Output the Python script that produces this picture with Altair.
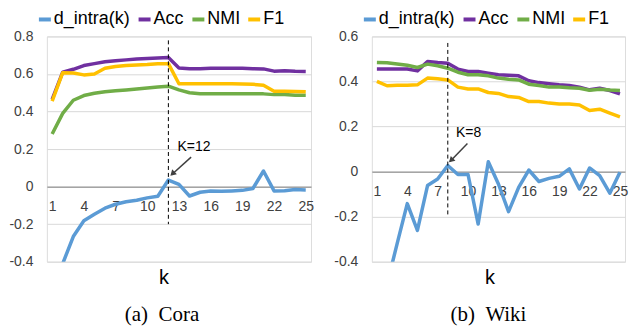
import altair as alt
import pandas as pd

# ---------------- data ----------------
k = list(range(1, 26))
series_names = ["d_intra(k)", "Acc", "NMI", "F1"]
series_colors = ["#5B9BD5", "#7030A0", "#70AD47", "#FFC000"]
x_ticks = [1, 4, 7, 10, 13, 16, 19, 22, 25]

cora_d = [None, -0.41, -0.266, -0.182, -0.147, -0.115, -0.094, -0.081, -0.073, -0.060,
          -0.051, 0.035, 0.012, -0.050, -0.030, -0.023, -0.025, -0.023, -0.020, -0.010,
          0.083, -0.023, -0.022, -0.016, -0.018]
cora_acc = [0.465, 0.610, 0.625, 0.645, 0.655, 0.665, 0.670, 0.675, 0.680, 0.682,
            0.685, 0.688, 0.632, 0.628, 0.628, 0.630, 0.630, 0.630, 0.630, 0.628,
            0.627, 0.615, 0.617, 0.614, 0.613]
cora_nmi = [0.280, 0.390, 0.460, 0.485, 0.497, 0.505, 0.510, 0.515, 0.520, 0.525,
            0.530, 0.535, 0.515, 0.500, 0.495, 0.495, 0.495, 0.495, 0.495, 0.494,
            0.494, 0.490, 0.490, 0.487, 0.487]
cora_f1 = [0.455, 0.607, 0.605, 0.595, 0.600, 0.630, 0.640, 0.645, 0.648, 0.650,
           0.655, 0.655, 0.548, 0.548, 0.548, 0.548, 0.548, 0.548, 0.546, 0.545,
           0.540, 0.508, 0.508, 0.507, 0.505]

wiki_d = [None, -0.50, -0.32, -0.142, -0.261, -0.062, -0.033, 0.027, -0.013, -0.013,
          -0.233, 0.044, -0.055, -0.178, -0.070, 0.007, -0.044, -0.030, -0.021, 0.012,
          -0.077, 0.016, -0.018, -0.096, -0.003]
wiki_acc = [0.455, 0.455, 0.455, 0.455, 0.447, 0.489, 0.484, 0.481, 0.455, 0.444,
            0.444, 0.437, 0.430, 0.428, 0.425, 0.403, 0.395, 0.390, 0.385, 0.382,
            0.375, 0.363, 0.370, 0.360, 0.345]
wiki_nmi = [0.484, 0.483, 0.478, 0.472, 0.462, 0.477, 0.470, 0.459, 0.441, 0.430,
            0.430, 0.425, 0.415, 0.410, 0.407, 0.388, 0.382, 0.375, 0.375, 0.372,
            0.370, 0.361, 0.365, 0.362, 0.360]
wiki_f1 = [0.400, 0.381, 0.383, 0.383, 0.385, 0.415, 0.412, 0.407, 0.375, 0.367,
           0.367, 0.351, 0.347, 0.333, 0.329, 0.311, 0.311, 0.304, 0.300, 0.300,
           0.296, 0.271, 0.277, 0.260, 0.243]

# chosen K markers and annotations
cora_mark = {"k": 12, "top": 0.779, "bottom": -0.2, "label": "K=12",
             "label_k": 14.42, "label_v": 0.211,
             "arrow": [14.15, 0.157, 12.3, 0.063], "head": [12.45, 0.072]}
wiki_mark = {"k": 8, "top": 0.571, "bottom": -0.2, "label": "K=8",
             "label_k": 10.06, "label_v": 0.171,
             "arrow": [9.94, 0.125, 8.22, 0.045], "head": [8.39, 0.053]}

FONT = "Liberation Sans"
TXT = "#404040"


def long_df(vals_list):
    rows = []
    for name, vals in zip(series_names, vals_list):
        for kk, v in zip(k, vals):
            rows.append({"k": kk, "value": v, "series": name})
    return pd.DataFrame(rows)


def yfmt():
    return ("datum.value == 0 ? '0' : (datum.value < 0 ? '-' + format(-datum.value, '.1f') "
            ": format(datum.value, '.1f'))")


def panel(df, ydom, yticks, width, height, mark, caption, cap_dx, title_x):
    zero_from_bottom = height * (0 - ydom[0]) / (ydom[1] - ydom[0])
    xscale = alt.Scale(domain=[0.5, 25.5], nice=False, zero=False)
    yscale = alt.Scale(domain=ydom, nice=False, zero=False)
    xaxis = alt.Axis(values=x_ticks, offset=-zero_from_bottom, grid=False,
                     ticks=False, domain=True, domainColor="#7f7f7f",
                     domainWidth=1, labelFontSize=14, labelFont=FONT,
                     labelColor=TXT, labelPadding=13, labelOverlap=False,
                     labelFlush=False, labelBound=False, title="k",
                     titleFont=FONT, titleFontSize=20, titleFontWeight="normal",
                     titleColor="black", titleX=title_x,
                     titleY=zero_from_bottom + 22,
                     titleBaseline="alphabetic", titleAnchor="start",
                     titleAlign="center")
    yaxis = alt.Axis(values=yticks, grid=True, gridColor="#d9d9d9",
                     gridWidth=1, domain=False, ticks=False, labelFontSize=14,
                     labelFont=FONT, labelColor=TXT, labelPadding=14,
                     labelOverlap=False, labelFlush=False, labelBound=False,
                     labelExpr=yfmt(), title=None)
    xs = dict(scale=xscale, axis=xaxis, title="k")
    ys = dict(scale=yscale, axis=yaxis, title=None)

    lines = alt.Chart(df).mark_line(strokeWidth=3.5, clip=True, strokeJoin="round",
                                    strokeCap="butt").encode(
        x=alt.X("k:Q", **xs),
        y=alt.Y("value:Q", **ys),
        color=alt.Color("series:N",
                        scale=alt.Scale(domain=series_names, range=series_colors),
                        legend=alt.Legend(orient="none", legendX=-11, legendY=-26,
                                          direction="horizontal", title=None,
                                          symbolType="stroke", symbolStrokeWidth=4,
                                          symbolSize=144, labelFontSize=18,
                                          labelFont=FONT, labelColor="black",
                                          columnPadding=0, labelOffset=0, padding=0)),
    )

    rule_df = pd.DataFrame({"k": [mark["k"]], "top": [mark["top"]],
                            "bottom": [mark["bottom"]]})
    vline = alt.Chart(rule_df).mark_rule(color="black", strokeWidth=1,
                                         strokeDash=[4, 3]).encode(
        x=alt.X("k:Q", **xs), y=alt.Y("top:Q", **ys), y2="bottom:Q")

    lab_df = pd.DataFrame({"k": [mark["label_k"]], "v": [mark["label_v"]],
                           "t": [mark["label"]]})
    label = alt.Chart(lab_df).mark_text(font=FONT, fontSize=14, color="black",
                                        baseline="middle", align="center").encode(
        x=alt.X("k:Q", **xs), y=alt.Y("v:Q", **ys), text="t:N")

    a = mark["arrow"]
    arr_df = pd.DataFrame({"k": [a[0]], "v": [a[1]], "k2": [a[2]], "v2": [a[3]]})
    shaft = alt.Chart(arr_df).mark_rule(color="#404040", strokeWidth=1.5).encode(
        x=alt.X("k:Q", **xs), y=alt.Y("v:Q", **ys), x2="k2:Q", y2="v2:Q")

    h = mark["head"]
    head_df = pd.DataFrame({"k": [h[0]], "v": [h[1]]})
    head = alt.Chart(head_df).mark_point(shape="triangle", filled=True, size=45,
                                         color="#404040", opacity=1, angle=226).encode(
        x=alt.X("k:Q", **xs), y=alt.Y("v:Q", **ys))

    return alt.layer(lines, vline, shaft, head, label).properties(
        width=width, height=height,
        title=alt.TitleParams(caption, orient="bottom", font="Liberation Serif",
                              fontSize=21, fontWeight="normal", color="black",
                              anchor="middle", frame="group", dx=cap_dx, offset=16),
    )


cora_df = long_df([cora_d, cora_acc, cora_nmi, cora_f1])
wiki_df = long_df([wiki_d, wiki_acc, wiki_nmi, wiki_f1])

left = panel(cora_df, [-0.4, 0.8], [-0.4, -0.2, 0, 0.2, 0.4, 0.6, 0.8], 265, 226,
             cora_mark, "(a)\u2002Cora", -17, 117)
right = panel(wiki_df, [-0.4, 0.6], [-0.4, -0.2, 0, 0.2, 0.4, 0.6], 254, 226,
              wiki_mark, "(b)\u2002Wiki", -10, 118)

chart = alt.hconcat(left, right, spacing=19).resolve_scale(
    color="independent", x="independent", y="independent"
).properties(
    padding={"top": 1, "left": 0, "right": 0, "bottom": 0}
).configure_view(stroke=None).configure_axis(labelOverlap=False).configure(
    background="white")

chart.save("out.html", embed_options={"renderer": "svg", "actions": False})
